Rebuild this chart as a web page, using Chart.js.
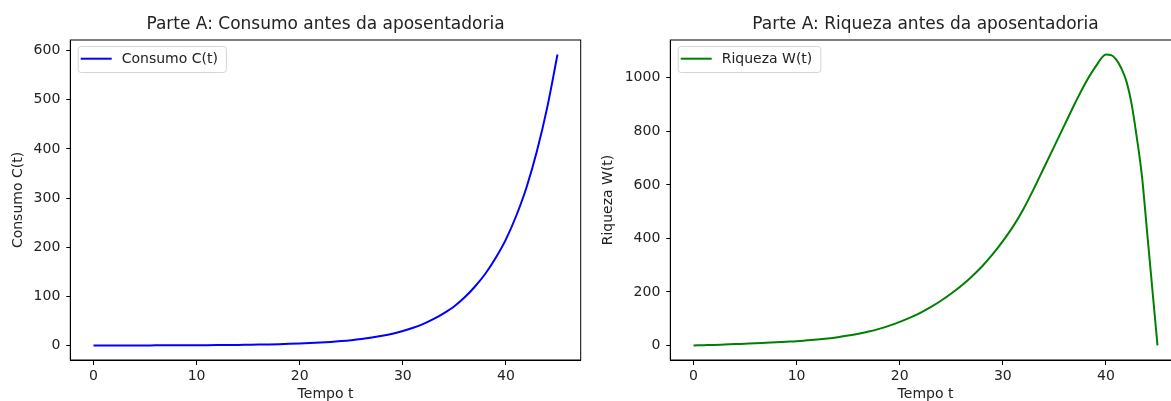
<!DOCTYPE html>
<html><head><meta charset="utf-8">
<script src="https://cdn.jsdelivr.net/npm/chart.js@4.4.1/dist/chart.umd.min.js"></script>
<style>
html,body{margin:0;padding:0;background:#fff;overflow:hidden;width:1171px;height:401px;}
.box{position:absolute;top:0;height:410px;}
#b1{left:0;width:590px;}
#b2{left:590px;width:600px;}
</style></head><body>
<div class="box" id="b1"><canvas id="c1"></canvas></div>
<div class="box" id="b2"><canvas id="c2"></canvas></div>
<script>
// ---- data ----
const tempoC = [0,1,2,3,4,5,6,7,8,9,10,11,12,13,14,15,16,17,18,19,20,21,22,23,24,25,26,27,28,29,30,31,32,33,34,35,36,37,38,39,40,41,42,43,44,45];
const consumo = [0.07,0.09,0.1,0.13,0.15,0.2,0.24,0.29,0.36,0.44,0.54,0.65,0.8,1.0,1.2,1.5,1.8,2.2,2.7,3.3,4.0,4.9,6.0,7.3,8.9,10.8,13.2,16.2,19.7,24,29.5,36,44,54,66,80,98,120,146,178,216,264,322,395,484,592];
const tempoW = [0,1,2,3,4,5,6,7,8,9,10,11,12,13,14,15,16,17,18,19,20,21,22,23,24,25,26,27,28,29,30,31,32,33,34,35,36,37,38,39,40,40.5,41,41.5,42,42.5,43,43.5,44,44.5,45];
const riqueza = [0,1,2,3.5,5,6.5,8,10,12,14,16,19,22,26,31,37,44,52,62,74,88,104,122,143,167,194,224,258,296,340,390,445,510,585,665,745,825,905,980,1042,1087,1085,1068,1035,985,900,775,630,420,210,0];
const xTicks = [0,10,20,30,40];
const yTicksC = [0,100,200,300,400,500,600];
const yTicksW = [0,200,400,600,800,1000];
const titles = ['Parte A: Consumo antes da aposentadoria','Parte A: Riqueza antes da aposentadoria'];
const yLabels = ['Consumo C(t)','Riqueza W(t)'];
const seriesLabels = ['Consumo C(t)','Riqueza W(t)'];
const xLabel = 'Tempo t';

const FONT = 'DejaVu Sans';
const TXT = '#222';
const FS = 14;

const framePlugin = {
  id:'frame',
  afterDatasetsDraw(chart){
    const {ctx, chartArea:a} = chart;
    ctx.save();
    ctx.strokeStyle = '#000'; ctx.lineWidth = 1;
    ctx.strokeRect(a.left, a.top, a.right - a.left, a.bottom - a.top);
    ctx.restore();
  }
};
const legendPlugin = {
  id:'innerLegend',
  afterDraw(chart){
    const {ctx, chartArea:a} = chart;
    const ds = chart.data.datasets[0];
    ctx.save();
    ctx.font = FS + 'px "' + FONT + '"';
    const x0 = a.left + 7.4, y0 = a.top + 6, h = 26;
    const tx = x0 + 44;
    const tw = ctx.measureText(ds.label).width;
    const w = tx + tw + 8 - x0;
    ctx.beginPath();
    ctx.roundRect(x0 + 0.5, y0 + 0.5, w, h, 3);
    ctx.fillStyle = 'rgba(255,255,255,0.8)';
    ctx.fill();
    ctx.strokeStyle = '#d5d5d5'; ctx.lineWidth = 1; ctx.stroke();
    ctx.beginPath();
    ctx.moveTo(x0 + 3, y0 + 12.7); ctx.lineTo(x0 + 34, y0 + 12.7);
    ctx.strokeStyle = ds.borderColor; ctx.lineWidth = 2; ctx.stroke();
    ctx.fillStyle = TXT; ctx.textBaseline = 'middle'; ctx.textAlign = 'left';
    ctx.fillText(ds.label, tx, y0 + 13.5);
    ctx.restore();
  }
};

function range(vals){
  const mn = Math.min(...vals), mx = Math.max(...vals), m = (mx - mn) * 0.05;
  return [mn - m, mx + m];
}

function makeChart(id, xs, ys, label, color, title, ylabel, yTicks, yWidth){
  const [xmin, xmax] = range(xs);
  const [ymin, ymax] = range(ys);
  const font = {family: FONT, size: FS};
  return new Chart(document.getElementById(id), {
    type:'line',
    data:{datasets:[{label, data: xs.map((x,i)=>({x, y: ys[i]})), borderColor: color, borderWidth: 2, pointRadius: 0, fill:false, cubicInterpolationMode:'monotone'}]},
    options:{
      animation:false, responsive:true, maintainAspectRatio:false,
      layout:{padding:{left:0, right:9.3, top:0, bottom:0}},
      plugins:{
        legend:{display:false}, tooltip:{enabled:false},
        title:{display:true, text:title, fullSize:false, font:{family:FONT, size:17, weight:'normal'}, color:TXT, padding:{top:14, bottom:5.6}}
      },
      scales:{
        x:{type:'linear', min:xmin, max:xmax,
          afterBuildTicks:a=>{a.ticks = xTicks.map(v=>({value:v}));},
          afterFit:s=>{s.height = 50;},
          grid:{drawOnChartArea:false, drawTicks:true, tickLength:5, color:'#000'},
          border:{display:true, color:'#000', width:1},
          ticks:{font, color:TXT, padding:3, maxRotation:0, autoSkip:false, callback:v=>String(v)},
          title:{display:true, text:xLabel, font, color:TXT, padding:{top:0, bottom:7}}
        },
        y:{type:'linear', min:ymin, max:ymax,
          afterBuildTicks:a=>{a.ticks = yTicks.map(v=>({value:v}));},
          afterFit:s=>{s.width = yWidth;},
          grid:{drawOnChartArea:false, drawTicks:true, tickLength:4, color:'#000'},
          border:{display:true, color:'#000', width:1},
          ticks:{font, color:TXT, padding:6, autoSkip:false, callback:v=>String(v)},
          title:{display:true, text:ylabel, font, color:TXT, padding:{top:10, bottom:0}}
        }
      }
    },
    plugins:[framePlugin, legendPlugin]
  });
}

makeChart('c1', tempoC, consumo, seriesLabels[0], '#0000ff', titles[0], yLabels[0], yTicksC, 70.3);
makeChart('c2', tempoW, riqueza, seriesLabels[1], '#008000', titles[1], yLabels[1], yTicksW, 80.3);
</script>
</body></html>
